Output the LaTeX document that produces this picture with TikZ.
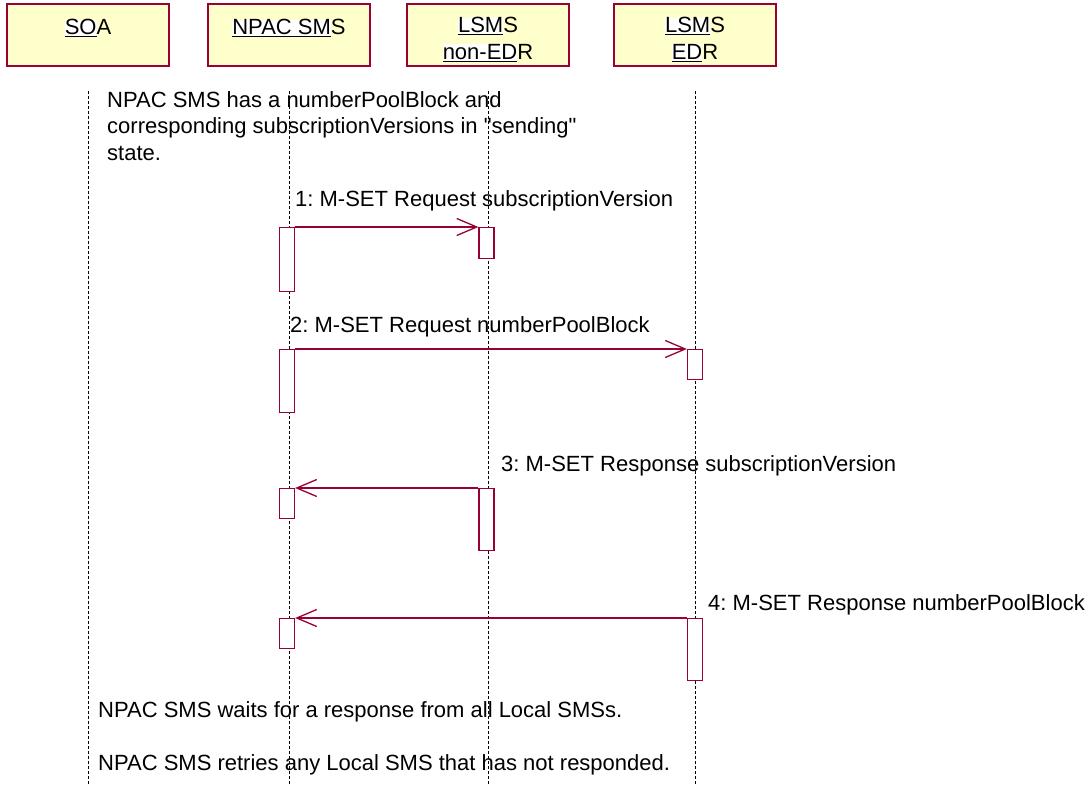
\documentclass[tikz,border=0pt]{standalone}
\usepackage{fontspec}
\setmainfont{Liberation Sans}[Ligatures=TeXOff]
\usetikzlibrary{arrows.meta,positioning}
\definecolor{roseline}{RGB}{153,0,51}
\definecolor{rosefill}{RGB}{255,255,204}
\newcommand{\ulbox}[1]{{\setlength{\fboxsep}{0pt}\colorbox{white}{\underline{#1}}}}
\frenchspacing

\begin{document}
\begin{tikzpicture}[x=1pt,y=-1pt,
	font=\fontsize{22}{26.5}\selectfont,
	head/.style={draw=roseline, fill=rosefill, line width=1.2pt, minimum width=162pt, minimum height=62pt, inner sep=0pt},
	headtxt/.style={inner sep=0pt, align=center},
	lifeline/.style={line width=0.9pt, dash pattern=on 3pt off 2pt},
	act/.style={draw=roseline, fill=white, line width=1.2pt, minimum width=15pt, inner sep=0pt, anchor=north},
	msg/.style={draw=roseline, line width=1.3pt, -{Straight Barb[length=20pt,width=17pt]}},
	lbl/.style={inner sep=0pt, anchor=base west},
	note/.style={inner sep=0pt, align=left}]
			%%%%% START %%%%%
			\useasboundingbox (0,0) rectangle (1089,784);
			
			\node[head] (soa) at (88,35) {};
			\node[head] (npac) at (289,35) {};
			\node[head] (lsmsn) at (488,35) {};
			\node[head] (lsmse) at (695,35) {};
			
			\node[headtxt, below=16pt of soa.north] (soat) {\ulbox{SO}A};
			\node[headtxt, below=16pt of npac.north] (npact) {\ulbox{NPAC SM}S};
			\node[headtxt, below=14pt of lsmsn.north] (lsmsnt) {\ulbox{LSM}S\\\ulbox{non-ED}R};
			\node[headtxt, below=14pt of lsmse.north] (lsmset) {\ulbox{LSM}S\\\ulbox{ED}R};
			
			\draw[lifeline] (soa.south |- 0,91) -- (soa.south |- 0,784);
			\draw[lifeline] (npac.south |- 0,91) -- (npac.south |- 0,784);
			\draw[lifeline] (lsmsn.south |- 0,91) -- (lsmsn.south |- 0,784);
			\draw[lifeline] (lsmse.south |- 0,91) -- (lsmse.south |- 0,784);
			
			\node[note, anchor=north west] (cond) at (107,91) {NPAC SMS has a numberPoolBlock and\\corresponding subscriptionVersions in "sending"\\state.};
			
			\node[act, minimum height=64pt] (a1) at (287,227) {};
			\node[act, minimum height=31pt] (b1) at (486.5,227) {};
			\draw[msg] (a1.north east) -- (b1.north west);
			\node[lbl] (l1) at (295,206) {1: M-SET Request subscriptionVersion};
			
			\node[act, minimum height=63pt] (a2) at (287,349) {};
			\node[act, minimum height=30pt] (c2) at (695,349) {};
			\draw[msg] (a2.north east) -- (c2.north west);
			\node[lbl] (l2) at (290,332) {2: M-SET Request numberPoolBlock};
			
			\node[act, minimum height=30pt] (a3) at (287,488) {};
			\node[act, minimum height=62pt] (b3) at (486.5,488) {};
			\draw[msg] (b3.north west) -- (a3.north east);
			\node[lbl] (l3) at (501,471) {3: M-SET Response subscriptionVersion};
			
			\node[act, minimum height=30pt] (a4) at (287,618) {};
			\node[act, minimum height=62pt] (c4) at (695,618) {};
			\draw[msg] (c4.north west) -- (a4.north east);
			\node[lbl] (l4) at (708,610) {4: M-SET Response numberPoolBlock};
			
			\node[lbl] (wait) at (98,717) {NPAC SMS waits for a response from all Local SMSs.};
			\node[lbl] (retry) at (98,770) {NPAC SMS retries any Local SMS that has not responded.};
			%%%%% END %%%%%
\end{tikzpicture}
\end{document}
